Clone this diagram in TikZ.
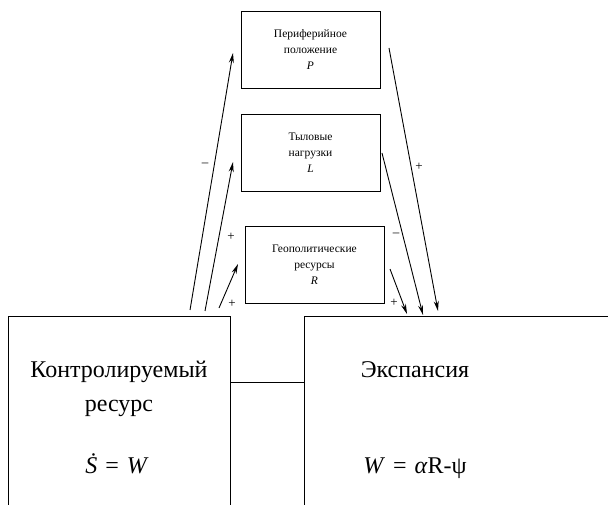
\documentclass[tikz,border=0pt]{standalone}
\usepackage{fontspec}
\setmainfont{Liberation Serif}
\usetikzlibrary{arrows.meta}
\begin{document}
\begin{tikzpicture}[x=1pt,y=-1pt,
  factor/.style={draw,line width=0.9pt,minimum width=139pt,minimum height=77pt,
    inner sep=0pt,align=center,font=\fontsize{11.5}{16}\selectfont},
  bigtext/.style={anchor=base,inner sep=0pt,font=\fontsize{24}{28}\selectfont},
  link/.style={line width=0.9pt,-{Stealth[length=10pt,width=5pt]}},
  sign/.style={inner sep=0pt,font=\fontsize{13}{13}\selectfont},
  wall/.style={line width=0.8pt}]
\useasboundingbox (0,0) rectangle (608,505);

% three intermediate factors
\node[factor] (P) at (310.5,49.5) {Периферийное\\положение\\\textit{P}};
\node[factor] (L) at (310.5,152.5) {Тыловые\\нагрузки\\\textit{L}};
\node[factor] (R) at (314.5,264.5) {Геополитические\\ресурсы\\\textit{R}};

% two main blocks (open at the bottom)
\coordinate (ctrlNW) at (8,316);
\coordinate (ctrlNE) at (230,316);
\coordinate (ctrlE) at (230,382);
\coordinate (expNW) at (304,316);
\coordinate (expW) at (304,382);
\draw[wall] (8,505) -- (ctrlNW) -- (ctrlNE) -- (230,505);
\draw[wall] (304,505) -- (expNW) -- (608,316);
\draw[wall] (ctrlE) -- (expW);

\node[bigtext] (ctrl1) at (119,377) {Контролируемый};
\node[bigtext] (ctrl2) at (119,411) {ресурс};
\node[bigtext] (ctrl3) at (117,473) {\textit{Ṡ}\,\,=\,\,\textit{W}};
\node[bigtext] (exp1) at (415,377) {Экспансия};
\node[bigtext] (exp2) at (415,473) {\textit{W}\,\,=\,\,\textit{α}R-ψ};

% arrow ends
\coordinate (s1) at (190,310);
\coordinate (s2) at (205,311);
\coordinate (s3) at (219,308);
\coordinate (tP) at (233,53);
\coordinate (tL) at (233,162);
\coordinate (tR) at (238,264);
\coordinate (oP) at (389,48);
\coordinate (oL) at (382,153);
\coordinate (oR) at (390,269);
\coordinate (e1) at (407,314);
\coordinate (e2) at (423,315);
\coordinate (e3) at (438,311);

\draw[link] (s1) -- (tP);
\draw[link] (s2) -- (tL);
\draw[link] (s3) -- (tR);
\draw[link] (oP) -- (e3);
\draw[link] (oL) -- (e2);
\draw[link] (oR) -- (e1);

% signs of the influences
\node[sign] (m1) at (205,165) {–};
\node[sign] (p1) at (231,237) {+};
\node[sign] (p2) at (232,304) {+};
\node[sign] (m2) at (396,235) {–};
\node[sign] (p3) at (394,303) {+};
\node[sign] (p4) at (419,167) {+};
\end{tikzpicture}
\end{document}
